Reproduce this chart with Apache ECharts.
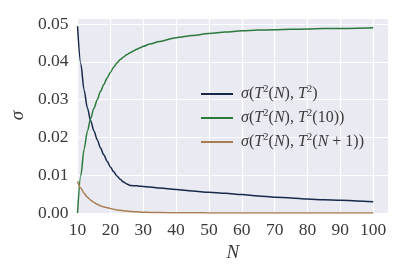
<!DOCTYPE html>
<html><head><meta charset="utf-8">
<script src="https://cdn.jsdelivr.net/npm/echarts@6/dist/echarts.min.js"></script>
<style>html,body{margin:0;padding:0;background:#fff}#c{width:407px;height:271px}</style>
</head><body><div id="c"></div>
<script>
const N = [10,11,12,13,14,15,16,17,18,19,20,21,22,23,24,25,26,27,28,29,30,32,35,40,45,50,55,60,65,70,75,80,85,90,95,100];
const sigmaT2 = [0.0494,0.0395,0.0325,0.0278,0.0244,0.0217,0.0194,0.0172,0.0154,0.0137,0.0122,0.0109,0.0098,0.0089,0.0082,0.0077,0.0073,0.0072,0.0072,0.0071,0.0070,0.0069,0.0066,0.0062,0.0058,0.0055,0.0052,0.0049,0.0045,0.0042,0.0040,0.0037,0.0035,0.0034,0.0032,0.0030];
const sigmaT10 = [0,0.0099,0.0169,0.0216,0.0250,0.0277,0.0300,0.0322,0.0340,0.0357,0.0372,0.0386,0.0397,0.0406,0.0413,0.0419,0.0424,0.0429,0.0433,0.0437,0.0441,0.0447,0.0454,0.0464,0.0470,0.0475,0.0479,0.0482,0.0484,0.0485,0.0486,0.0487,0.0488,0.0488,0.0489,0.0490];
const sigmaTN1 = [0.0084,0.0066,0.0052,0.0042,0.0034,0.0028,0.0023,0.0019,0.0016,0.0014,0.0012,0.0010,0.0008,0.0007,0.0006,0.0005,0.0004,0.00035,0.0003,0.00025,0.0002,0.00015,0.0001,0.00006,0.00004,0.00003,0.00002,0.00002,0.00001,0.00001,0.00001,0.00001,0.00001,0.00001,0.00001,0.00001];
const seriesNames = ['s1','s2','s3'];
const xTicks = [10,20,30,40,50,60,70,80,90,100];
const yTicks = ['0.00','0.01','0.02','0.03','0.04','0.05'];

const legendRich = {
  s1: '{i|σ}{r|(}{i|T}{s|2}{r|(}{i|N}{r|), }{i|T}{s|2}{r|)}',
  s2: '{i|σ}{r|(}{i|T}{s|2}{r|(}{i|N}{r|), }{i|T}{s|2}{r|(10))}',
  s3: '{i|σ}{r|(}{i|T}{s|2}{r|(}{i|N}{r|), }{i|T}{s|2}{r|(}{i|N}{r| + 1))}'
};
const colors = ['#17284a','#2b7a3c','#a97d52'];
const font = 'Liberation Serif';
const pair = arr => N.map((n,i)=>[n,arr[i]]);

const chart = echarts.init(document.getElementById('c'), null, {renderer:'canvas'});
chart.setOption({
  animation:false,
  backgroundColor:'#ffffff',
  grid:{left:74,right:19,top:18,bottom:58,show:true,backgroundColor:'#eaeaf2',borderWidth:0},
  xAxis:{type:'value',min:10,max:104.5,interval:10,
    name:'N',nameLocation:'middle',nameGap:17,
    nameTextStyle:{fontFamily:font,fontStyle:'italic',fontSize:19,color:'#3a3a3a'},
    axisLine:{show:false},axisTick:{show:false},
    splitLine:{lineStyle:{color:'#ffffff',width:1.2}},
    axisLabel:{showMaxLabel:false,fontFamily:font,fontSize:17.5,color:'#3a3a3a',margin:8,
      formatter:v=> xTicks.includes(v)? String(v):''}},
  yAxis:{type:'value',min:0,max:0.0516,interval:0.01,
    name:'σ',nameLocation:'middle',nameGap:43,nameRotate:90,
    nameTextStyle:{fontFamily:font,fontStyle:'italic',fontSize:19,color:'#3a3a3a'},
    axisLine:{show:false},axisTick:{show:false},
    splitLine:{lineStyle:{color:'#ffffff',width:1.2}},
    axisLabel:{showMaxLabel:false,fontFamily:font,fontSize:17.5,color:'#3a3a3a',margin:9,
      formatter:v=>{const k=Math.round(v*100);return yTicks[k]!==undefined?yTicks[k]:'';}}},
  legend:{orient:'vertical',left:196,top:79,itemWidth:32,itemHeight:2,itemGap:6,icon:'rect',
    data:seriesNames,
    formatter:n=>legendRich[n],
    textStyle:{color:'#3a3a3a',padding:[0,0,0,3],
      rich:{
        i:{fontFamily:font,fontStyle:'italic',fontSize:16,color:'#3a3a3a'},
        r:{fontFamily:font,fontSize:16,color:'#3a3a3a'},
        s:{fontFamily:font,fontSize:11,color:'#3a3a3a',padding:[0,0,9,0]}
      }}},
  series:[
    {name:'s1',type:'line',data:pair(sigmaT2),showSymbol:false,smooth:0.3,smoothMonotone:'x',lineStyle:{width:1.5,color:colors[0]},itemStyle:{color:colors[0]},z:3},
    {name:'s2',type:'line',data:pair(sigmaT10),showSymbol:false,smooth:0.3,smoothMonotone:'x',lineStyle:{width:1.5,color:colors[1]},itemStyle:{color:colors[1]},z:3},
    {name:'s3',type:'line',data:pair(sigmaTN1),showSymbol:false,smooth:0.3,smoothMonotone:'x',lineStyle:{width:1.5,color:colors[2]},itemStyle:{color:colors[2]},z:3}
  ]
});
</script></body></html>
